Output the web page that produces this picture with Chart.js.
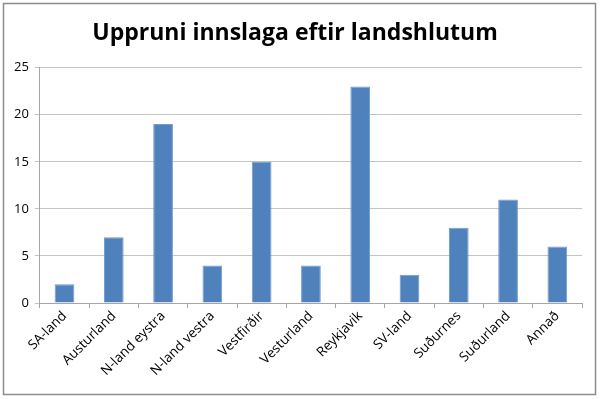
<!DOCTYPE html>
<html><head><meta charset="utf-8">
<script src="https://cdn.jsdelivr.net/npm/chart.js@4/dist/chart.umd.min.js"></script>
<style>html,body{margin:0;padding:0;background:#fff;}#wrap{width:600px;height:399px;position:relative;}</style>
</head><body><div id="wrap"><canvas id="c" width="600" height="399"></canvas></div>
<script>
const categories = ["SA-land","Austurland","N-land eystra","N-land vestra","Vestfirðir","Vesturland","Reykjavik","SV-land","Suðurnes","Suðurland","Annað"];
const values = [2,7,19,4,15,4,23,3,8,11,6];
const yTicks = [0,5,10,15,20,25];

const frame = {id:'frame', afterDraw(ch){const c=ch.ctx;c.save();c.strokeStyle='#8c8c8c';c.lineWidth=1.5;c.strokeRect(3.5,3.5,592,391);c.restore();}};
new Chart(document.getElementById('c'), {
  type:'bar',
  data:{labels:categories, datasets:[{data:values, backgroundColor:'#4F81BD', borderColor:'#6f9bd0', borderWidth:1, barPercentage:0.4, categoryPercentage:1}]},
  options:{
    responsive:false, animation:false,
    layout:{padding:{left:8,right:18,top:0,bottom:20}},
    plugins:{legend:{display:false}, tooltip:{enabled:false},
      title:{display:true, text:'Uppruni innslaga eftir landshlutum', color:'#000', font:{family:'Open Sans', size:23, weight:'bold'}, padding:{top:20,bottom:20}}},
    scales:{
      x:{grid:{display:true, drawOnChartArea:false, drawTicks:true, tickLength:5, color:'#a6a6a6', offset:true},
         border:{color:'#a6a6a6'},
         ticks:{color:'#000', font:{family:'Open Sans', size:13.5}, maxRotation:45, minRotation:45, padding:0}},
      y:{min:0, max:25, afterBuildTicks(s){s.ticks=yTicks.map(v=>({value:v}));},
         grid:{color:'#c4c4c4', tickLength:5, drawTicks:true},
         border:{color:'#a6a6a6'},
         ticks:{color:'#000', font:{family:'Open Sans', size:13}, padding:6}}
    }
  },
  plugins:[frame]
});
</script></body></html>
